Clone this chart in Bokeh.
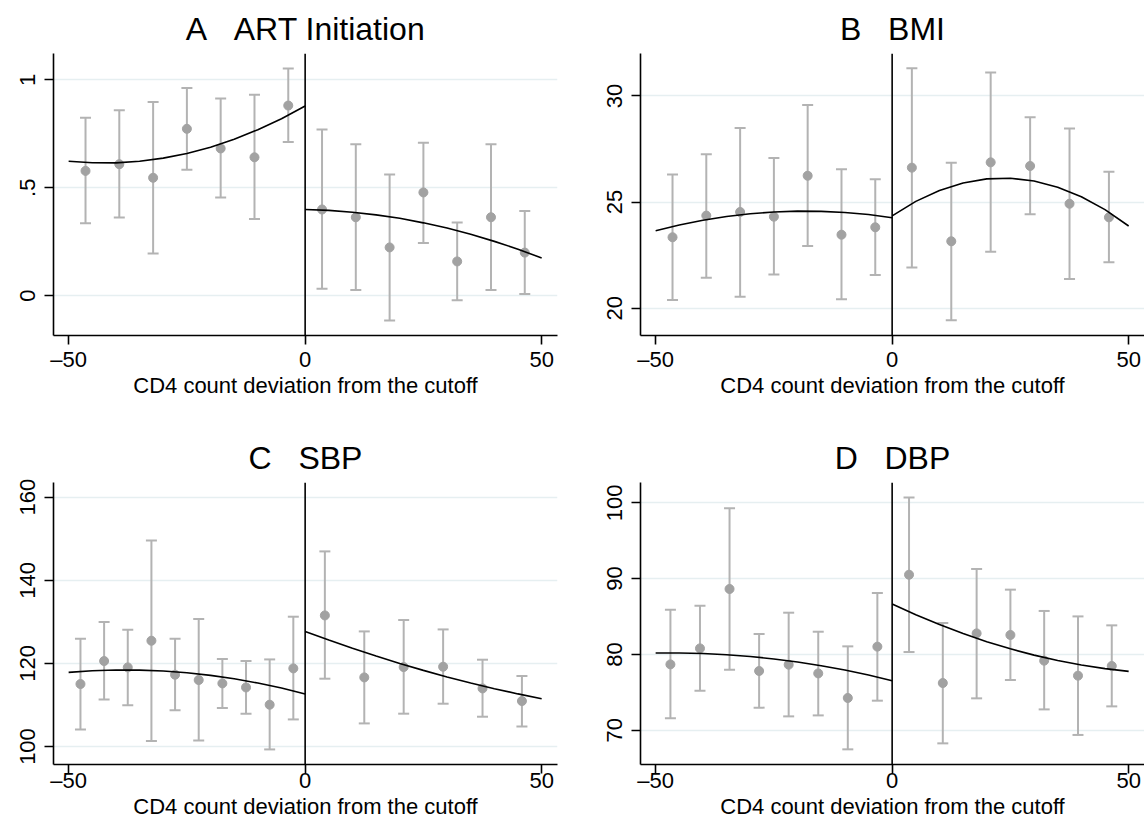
from bokeh.plotting import figure
from bokeh.layouts import column, row
from bokeh.models import FixedTicker, Span, ColumnDataSource
from bokeh.embed import file_html
from bokeh.resources import INLINE

FONT = "Liberation Sans"
NB = "\u00a0"

# ---------------- data ----------------
x_ticks = [-50, 0, 50]
x_tick_labels = {-50: "\u201350", 0: "0", 50: "50"}
fit_x_left = [-50, -45, -40, -35, -30, -25, -20, -15, -10, -5, 0]
fit_x_right = [0, 5, 10, 15, 20, 25, 30, 35, 40, 45, 50]

# A  ART Initiation
x_left_A = [-46.43, -39.29, -32.14, -25.0, -17.86, -10.71, -3.57]
mean_left_A = [0.578, 0.609, 0.546, 0.773, 0.682, 0.641, 0.881]
lo_left_A = [0.335, 0.362, 0.195, 0.583, 0.455, 0.355, 0.712]
hi_left_A = [0.824, 0.859, 0.897, 0.962, 0.914, 0.931, 1.053]
x_right_A = [3.57, 10.71, 17.86, 25.0, 32.14, 39.29, 46.43]
mean_right_A = [0.399, 0.363, 0.223, 0.478, 0.158, 0.363, 0.199]
lo_right_A = [0.031, 0.025, -0.116, 0.244, -0.022, 0.026, 0.007]
hi_right_A = [0.770, 0.702, 0.561, 0.708, 0.339, 0.702, 0.392]
fit_left_A = [0.623, 0.616, 0.615, 0.623, 0.637, 0.659, 0.688, 0.725, 0.769, 0.820, 0.879]
fit_right_A = [0.399, 0.395, 0.386, 0.374, 0.358, 0.337, 0.313, 0.284, 0.251, 0.215, 0.174]
y_ticks_A = [0, 0.5, 1]
y_labels_A = {0: "0", 0.5: ".5", 1: "1"}

# B  BMI
x_left_B = [-46.43, -39.29, -32.14, -25.0, -17.86, -10.71, -3.57]
mean_left_B = [23.34, 24.36, 24.53, 24.31, 26.24, 23.46, 23.81]
lo_left_B = [20.38, 21.43, 20.54, 21.58, 22.93, 20.42, 21.56]
hi_left_B = [26.30, 27.25, 28.49, 27.07, 29.57, 26.54, 26.07]
x_right_B = [4.17, 12.5, 20.83, 29.17, 37.5, 45.83]
mean_right_B = [26.62, 23.15, 26.87, 26.70, 24.92, 24.28]
lo_right_B = [21.91, 19.43, 22.66, 24.42, 21.37, 22.16]
hi_right_B = [31.30, 26.85, 31.11, 29.00, 28.47, 26.43]
fit_left_B = [23.65, 23.92, 24.14, 24.32, 24.45, 24.53, 24.57, 24.56, 24.51, 24.41, 24.26]
fit_right_B = [24.35, 25.03, 25.54, 25.90, 26.09, 26.12, 25.99, 25.70, 25.25, 24.64, 23.87]
y_ticks_B = [20, 25, 30]

# C  SBP
x_left_C = [-47.5, -42.5, -37.5, -32.5, -27.5, -22.5, -17.5, -12.5, -7.5, -2.5]
mean_left_C = [115.04, 120.57, 119.04, 125.46, 117.28, 116.0, 115.19, 114.22, 110.06, 118.8]
lo_left_C = [104.12, 111.34, 109.9, 101.3, 108.7, 101.47, 109.26, 107.9, 99.3, 106.52]
hi_left_C = [125.94, 129.96, 128.11, 149.6, 125.94, 130.68, 121.06, 120.57, 120.96, 131.24]
x_right_C = [4.17, 12.5, 20.83, 29.17, 37.5, 45.83]
mean_right_C = [131.55, 116.63, 119.12, 119.2, 113.98, 110.94]
lo_right_C = [116.32, 105.56, 107.9, 110.3, 107.17, 104.84]
hi_right_C = [146.96, 127.7, 130.44, 128.18, 120.89, 116.97]
fit_left_C = [117.84, 118.22, 118.40, 118.38, 118.16, 117.74, 117.12, 116.30, 115.28, 114.06, 112.63]
fit_right_C = [127.7, 125.62, 123.64, 121.76, 119.99, 118.32, 116.75, 115.29, 113.92, 112.66, 111.5]
y_ticks_C = [100, 120, 140, 160]

# D  DBP
x_left_D = [-46.875, -40.625, -34.375, -28.125, -21.875, -15.625, -9.375, -3.125]
mean_left_D = [78.68, 80.79, 88.63, 77.81, 78.64, 77.49, 74.25, 81.02]
lo_left_D = [71.56, 75.21, 77.98, 72.97, 71.82, 71.95, 67.47, 73.89]
hi_left_D = [85.9, 86.42, 99.27, 82.69, 85.5, 82.99, 81.06, 88.1]
x_right_D = [3.57, 10.71, 17.86, 25.0, 32.14, 39.29, 46.43]
mean_right_D = [90.51, 76.22, 82.77, 82.56, 79.17, 77.19, 78.47]
lo_right_D = [80.31, 68.26, 74.2, 76.62, 72.74, 69.37, 73.14]
hi_right_D = [100.71, 84.14, 91.27, 88.54, 85.73, 85.01, 83.83]
fit_left_D = [80.18, 80.19, 80.12, 79.96, 79.72, 79.40, 78.99, 78.50, 77.93, 77.27, 76.53]
fit_right_D = [86.65, 85.23, 83.93, 82.74, 81.68, 80.73, 79.90, 79.19, 78.59, 78.12, 77.76]
y_ticks_D = [70, 80, 90, 100]

BAR_COLOR = "#b3b3b3"
DOT_COLOR = "#a2a2a2"
GRID_COLOR = "#e6eff1"


def panel(title, y_range, y_ticks, y_labels, xs, means, los, his, fits,
          width, height, border_left, border_right, border_top, border_bottom,
          tick_standoff, label_standoff):
    p = figure(width=width, height=height, x_range=(-53.2, 53.35), y_range=y_range,
               output_backend="svg", toolbar_location=None,
               min_border_left=border_left, min_border_right=border_right,
               min_border_top=border_top, min_border_bottom=border_bottom)
    p.outline_line_color = None
    p.background_fill_color = "white"
    p.border_fill_color = "white"

    p.title.text = title
    p.title.align = "center"
    p.title.text_font = FONT
    p.title.text_font_size = "32px"
    p.title.text_font_style = "normal"
    p.title.text_color = "black"
    p.title.standoff = 14

    p.xgrid.visible = False
    p.ygrid.grid_line_color = GRID_COLOR
    p.ygrid.grid_line_width = 1.5

    for ax in (p.xaxis[0], p.yaxis[0]):
        ax.axis_line_color = "black"
        ax.axis_line_width = 1.6
        ax.major_tick_line_color = "black"
        ax.major_tick_line_width = 1.6
        ax.major_tick_out = 9
        ax.major_tick_in = 0
        ax.minor_tick_line_color = None
        ax.major_label_text_font = FONT
        ax.major_label_text_font_size = "22px"
        ax.major_label_text_color = "black"

    p.xaxis.ticker = FixedTicker(ticks=x_ticks)
    p.xaxis.major_label_overrides = x_tick_labels
    p.xaxis.major_label_standoff = tick_standoff
    p.xaxis.axis_label = "CD4 count deviation from the cutoff"
    p.xaxis.axis_label_text_font = FONT
    p.xaxis.axis_label_text_font_size = "22px"
    p.xaxis.axis_label_text_font_style = "normal"
    p.xaxis.axis_label_text_color = "black"
    p.xaxis.axis_label_standoff = label_standoff

    p.yaxis.ticker = FixedTicker(ticks=y_ticks)
    if y_labels:
        p.yaxis.major_label_overrides = y_labels
    p.yaxis.major_label_orientation = "vertical"
    p.yaxis.major_label_standoff = 9

    p.add_layout(Span(location=0, dimension="height", line_color="black", line_width=1.6))

    for x, m, lo, hi in zip(xs, means, los, his):
        src = ColumnDataSource(dict(x=x, m=m, lo=lo, hi=hi))
        p.segment(x0="x", y0="lo", x1="x", y1="hi", source=src,
                  line_color=BAR_COLOR, line_width=2)
        p.scatter(x="x", y="lo", source=src, marker="dash", size=11,
                  line_color=BAR_COLOR, line_width=2)
        p.scatter(x="x", y="hi", source=src, marker="dash", size=11,
                  line_color=BAR_COLOR, line_width=2)
        p.scatter(x="x", y="m", source=src, marker="circle", size=9,
                  fill_color=DOT_COLOR, line_color=DOT_COLOR)

    p.line(fit_x_left, fits[0], line_color="black", line_width=1.6)
    p.line(fit_x_right, fits[1], line_color="black", line_width=1.6)
    return p


pA = panel("A" + NB * 3 + "ART Initiation", (-0.1855, 1.1224), y_ticks_A, y_labels_A,
           [x_left_A, x_right_A], [mean_left_A, mean_right_A],
           [lo_left_A, lo_right_A], [hi_left_A, hi_right_A],
           [fit_left_A, fit_right_A], 572, 412, 53, 15, 53, 77, 2, -2)
pB = panel("B" + NB * 3 + "BMI", (18.71, 32.0), y_ticks_B, None,
           [x_left_B, x_right_B], [mean_left_B, mean_right_B],
           [lo_left_B, lo_right_B], [hi_left_B, hi_right_B],
           [fit_left_B, fit_right_B], 572, 412, 68, 0, 53, 77, 2, -2)
pC = panel("C" + NB * 3 + "SBP", (95.67, 163.54), y_ticks_C, None,
           [x_left_C, x_right_C], [mean_left_C, mean_right_C],
           [lo_left_C, lo_right_C], [hi_left_C, hi_right_C],
           [fit_left_C, fit_right_C], 572, 413, 53, 15, 70, 61, -6, -2)
pD = panel("D" + NB * 3 + "DBP", (65.47, 102.68), y_ticks_D, None,
           [x_left_D, x_right_D], [mean_left_D, mean_right_D],
           [lo_left_D, lo_right_D], [hi_left_D, hi_right_D],
           [fit_left_D, fit_right_D], 572, 413, 68, 0, 70, 61, -6, -2)

layout = column(row(pA, pB, spacing=0), row(pC, pD, spacing=0), spacing=0)

with open("out.html", "w") as f:
    f.write(file_html(layout, INLINE))
